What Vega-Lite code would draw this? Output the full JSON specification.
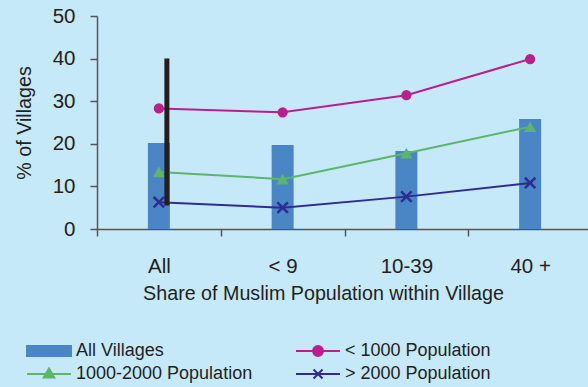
{
  "$schema": "https://vega.github.io/schema/vega-lite/v6.json",
  "width": 495,
  "height": 213,
  "autosize": "none",
  "padding": {"left": 97, "top": 16, "right": 0, "bottom": 158},
  "background": "#c6e9fa",
  "config": {
    "view": {"stroke": null},
    "font": "Liberation Sans",
    "axis": {
      "labelFont": "Liberation Sans",
      "titleFont": "Liberation Sans",
      "labelFontSize": 20.5,
      "titleFontSize": 19.7,
      "labelColor": "#231f20",
      "titleColor": "#231f20",
      "titleFontWeight": "normal",
      "domainColor": "#555555",
      "tickColor": "#555555",
      "domainWidth": 1.5,
      "tickWidth": 1.5,
      "tickSize": 7,
      "grid": false
    }
  },
  "datasets": {
    "main": [
      {"cat": "All", "series": "All Villages", "value": 20.2},
      {"cat": "< 9", "series": "All Villages", "value": 19.7},
      {"cat": "10-39", "series": "All Villages", "value": 18.3},
      {"cat": "40 +", "series": "All Villages", "value": 25.8},
      {"cat": "All", "series": "< 1000 Population", "value": 28.3},
      {"cat": "< 9", "series": "< 1000 Population", "value": 27.4},
      {"cat": "10-39", "series": "< 1000 Population", "value": 31.4},
      {"cat": "40 +", "series": "< 1000 Population", "value": 39.9},
      {"cat": "All", "series": "1000-2000 Population", "value": 13.4},
      {"cat": "< 9", "series": "1000-2000 Population", "value": 11.7},
      {"cat": "10-39", "series": "1000-2000 Population", "value": 17.8},
      {"cat": "40 +", "series": "1000-2000 Population", "value": 24.0},
      {"cat": "All", "series": "> 2000 Population", "value": 6.3},
      {"cat": "< 9", "series": "> 2000 Population", "value": 5.0},
      {"cat": "10-39", "series": "> 2000 Population", "value": 7.6},
      {"cat": "40 +", "series": "> 2000 Population", "value": 10.8}
    ],
    "range": [{"cat": "All", "lo": 5.5, "hi": 40}]
  },
  "data": {"name": "main"},
  "encoding": {
    "x": {
      "field": "cat",
      "type": "nominal",
      "sort": ["All", "< 9", "10-39", "40 +"],
      "scale": {"paddingInner": 0, "paddingOuter": 0},
      "title": "Share of Muslim Population within Village",
      "axis": {
        "labelAngle": 0,
        "labelPadding": 20,
        "titlePadding": 7,
        "titleX": 226,
        "tickBand": "extent"
      }
    }
  },
  "layer": [
    {
      "transform": [{"filter": "datum.series == 'All Villages'"}],
      "mark": {"type": "bar", "size": 22, "color": "#4a86c6"},
      "encoding": {
        "y": {
          "field": "value",
          "type": "quantitative",
          "scale": {"domain": [0, 50], "nice": false},
          "title": "% of Villages",
          "axis": {"values": [0, 10, 20, 30, 40, 50], "labelPadding": 15, "titlePadding": 18}
        }
      }
    },
    {
      "transform": [{"filter": "datum.series != 'All Villages'"}],
      "mark": {"type": "line", "strokeWidth": 2},
      "encoding": {
        "y": {"field": "value", "type": "quantitative"},
        "stroke": {
          "field": "series",
          "type": "nominal",
          "scale": {
            "domain": ["< 1000 Population", "1000-2000 Population", "> 2000 Population"],
            "range": ["#b8208b", "#5db56c", "#2e2c8e"]
          },
          "legend": null
        }
      }
    },
    {
      "transform": [{"filter": "datum.series == '< 1000 Population'"}],
      "mark": {"type": "point", "filled": true, "shape": "circle", "size": 105, "color": "#b8208b", "opacity": 1},
      "encoding": {"y": {"field": "value", "type": "quantitative"}}
    },
    {
      "transform": [{"filter": "datum.series == '1000-2000 Population'"}],
      "mark": {"type": "point", "filled": true, "shape": "triangle-up", "size": 150, "color": "#5db56c", "opacity": 1},
      "encoding": {"y": {"field": "value", "type": "quantitative"}}
    },
    {
      "transform": [{"filter": "datum.series == '> 2000 Population'"}],
      "mark": {"type": "point", "filled": false, "shape": "M-1,-1L1,1M-1,1L1,-1", "size": 110, "strokeWidth": 2.5, "color": "#2e2c8e", "opacity": 1},
      "encoding": {"y": {"field": "value", "type": "quantitative"}}
    },
    {
      "data": {"name": "range"},
      "mark": {"type": "rule", "strokeWidth": 5, "color": "#231f20", "xOffset": 8},
      "encoding": {
        "y": {"field": "lo", "type": "quantitative"},
        "y2": {"field": "hi"}
      }
    },
    {
      "mark": {"type": "point", "filled": true, "opacity": 0},
      "encoding": {
        "y": {"field": "value", "type": "quantitative"},
        "color": {
          "field": "series",
          "type": "nominal",
          "scale": {
            "domain": ["All Villages", "1000-2000 Population", "< 1000 Population", "> 2000 Population"],
            "range": ["#4a86c6", "#5db56c", "#b8208b", "#2e2c8e"]
          },
          "legend": {
            "title": null,
            "orient": "none",
            "legendX": -73,
            "legendY": 326,
            "columns": 2,
            "padding": 0,
            "symbolSize": 144,
            "symbolStrokeWidth": 2,
            "symbolOpacity": 1,
            "labelFont": "Liberation Sans",
            "labelFontSize": 18,
            "labelColor": "#231f20",
            "labelOffset": 34,
            "labelLimit": 0,
            "columnPadding": 39,
            "rowPadding": 4,
            "encode": {
              "symbols": {
                "update": {
                  "opacity": {"value": 1},
                  "stroke": {"scale": "color", "field": "value"},
                  "strokeWidth": {"value": 2}
                }
              }
            }
          }
        },
        "shape": {
          "field": "series",
          "type": "nominal",
          "scale": {
            "domain": ["All Villages", "1000-2000 Population", "< 1000 Population", "> 2000 Population"],
            "range": [
              "M-1,-0.83H6.33V0.83H-1Z",
              "M-1,0H6.33M2.67,-0.9L3.55,0.6L1.79,0.6Z",
              "M-1,0H6.33M1.84,0A0.83,0.83 0 1,0 3.5,0A0.83,0.83 0 1,0 1.84,0Z",
              "M-1,0H6.33M1.92,-0.75L3.42,0.75M1.92,0.75L3.42,-0.75"
            ]
          }
        }
      }
    }
  ]
}
